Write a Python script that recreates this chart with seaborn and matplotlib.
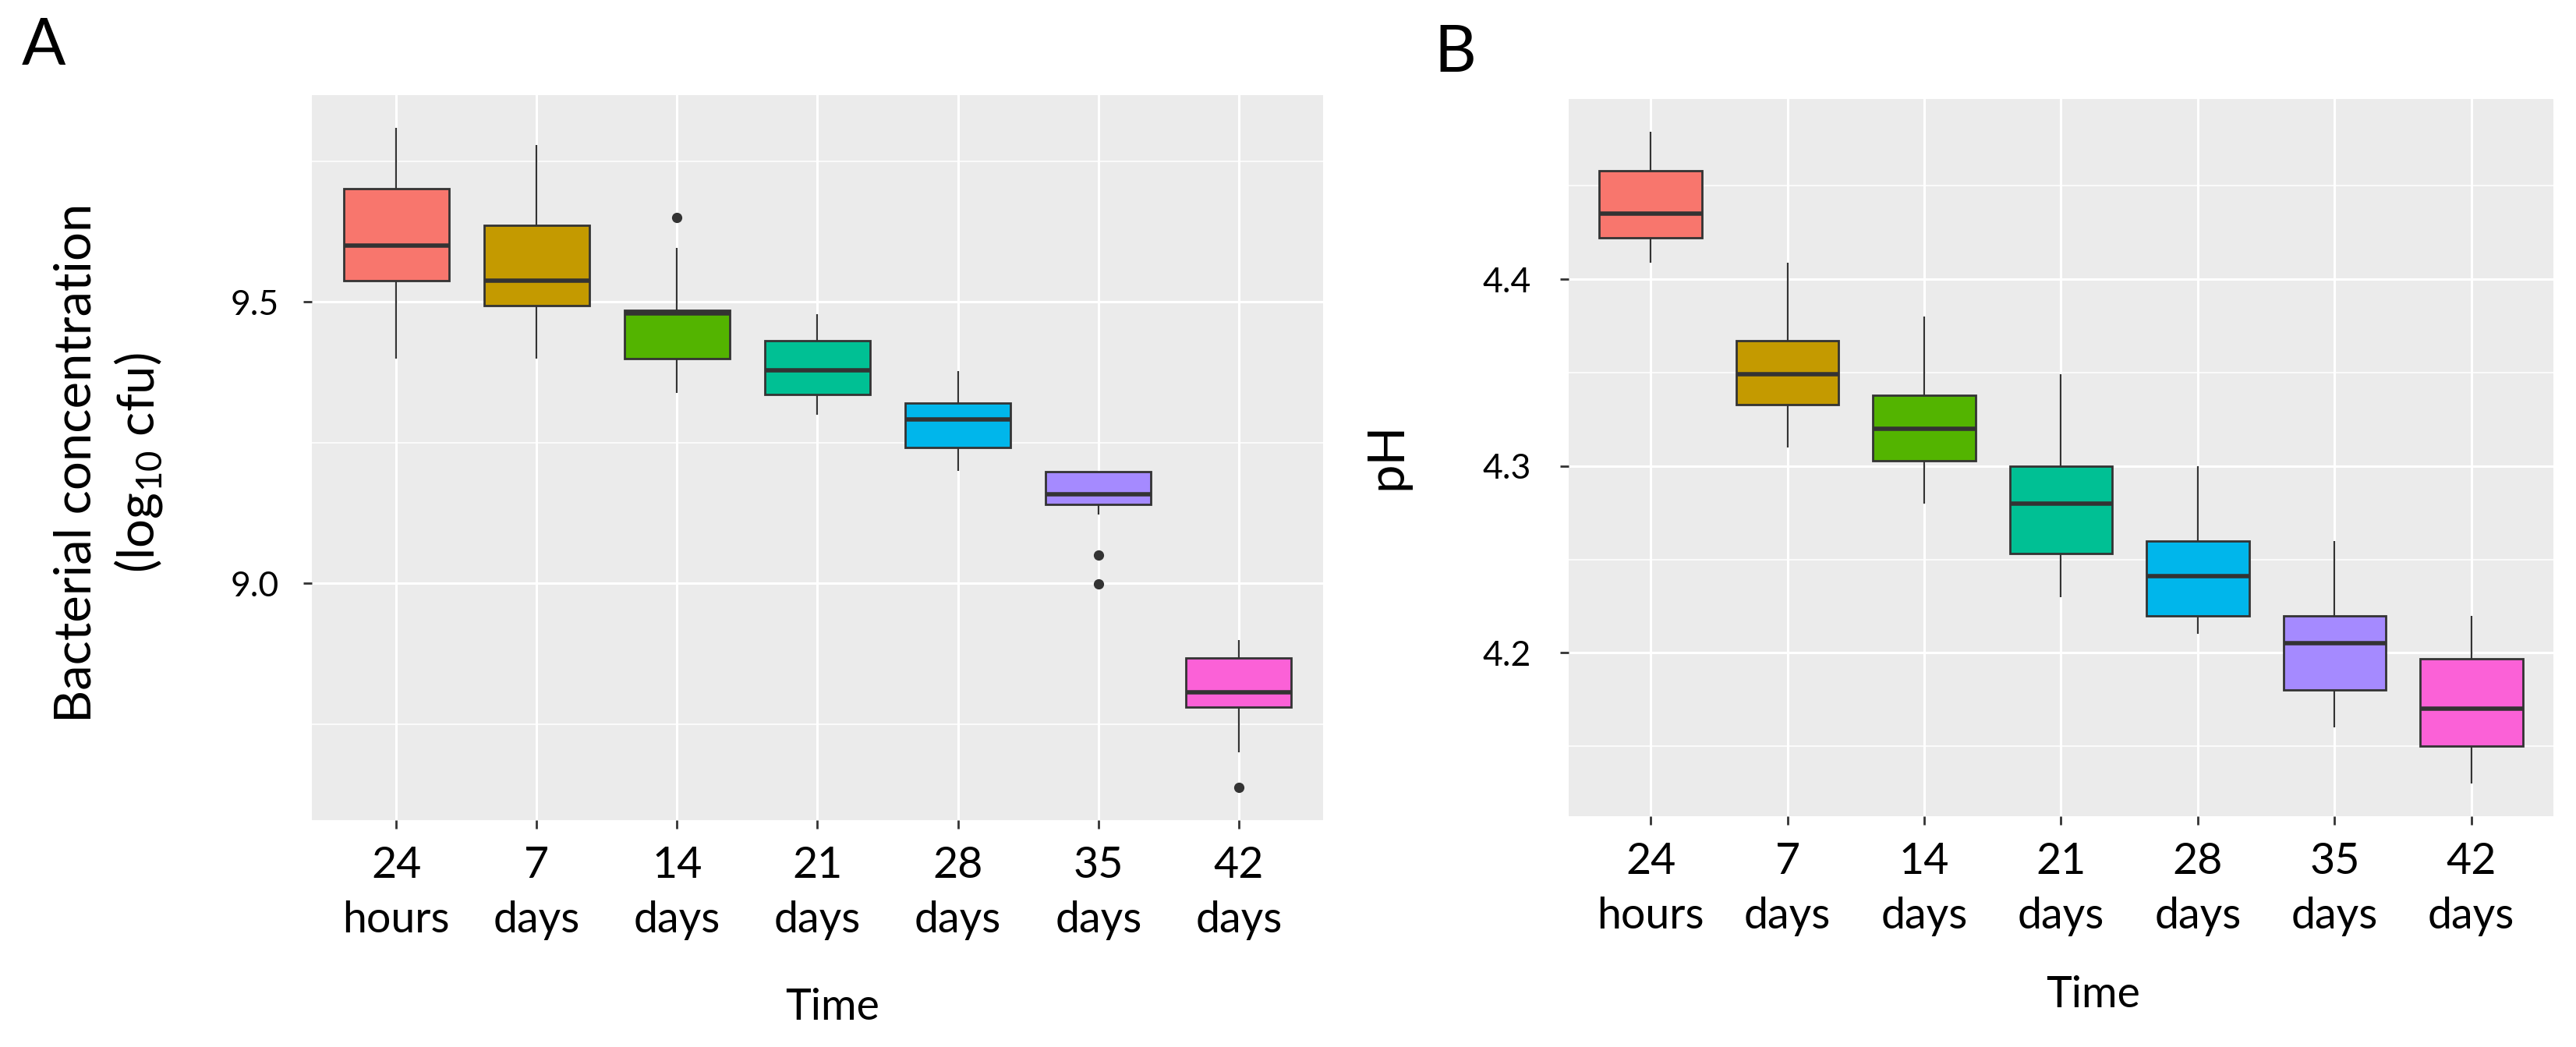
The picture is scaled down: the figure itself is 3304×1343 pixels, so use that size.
import numpy as np
import pandas as pd
import matplotlib
matplotlib.use("Agg")
import matplotlib.pyplot as plt
import seaborn as sns
from matplotlib.ticker import FixedLocator, FormatStrFormatter

plt.rcParams['font.family'] = ['Lato', 'DejaVu Sans']

# ---------------- data ----------------
categories = ["24\nhours", "7\ndays", "14\ndays", "21\ndays", "28\ndays", "35\ndays", "42\ndays"]
palette = ["#F8766D", "#C49A00", "#53B400", "#00C094", "#00B6EB", "#A58AFF", "#FB61D7"]

# Panel A: bacterial concentration (log10 cfu), observations per time point
bact_24h = [9.400, 9.538, 9.600, 9.702, 9.809]
bact_7d = [9.400, 9.494, 9.538, 9.636, 9.779]
bact_14d = [9.339, 9.370, 9.399, 9.440, 9.480, 9.482, 9.485, 9.596, 9.650]
bact_21d = [9.300, 9.336, 9.379, 9.431, 9.479]
bact_28d = [9.200, 9.241, 9.292, 9.320, 9.377]
bact_35d = [8.999, 9.050, 9.122, 9.141, 9.148, 9.153, 9.158, 9.170, 9.185, 9.198, 9.198, 9.198, 9.198]
bact_42d = [8.638, 8.700, 8.780, 8.790, 8.806, 8.840, 8.868, 8.885, 8.899]

# Panel B: pH, observations per time point
ph_24h = [4.409, 4.422, 4.435, 4.458, 4.479]
ph_7d = [4.310, 4.333, 4.349, 4.367, 4.409]
ph_14d = [4.280, 4.303, 4.320, 4.338, 4.380]
ph_21d = [4.230, 4.253, 4.280, 4.300, 4.349]
ph_28d = [4.210, 4.220, 4.241, 4.260, 4.300]
ph_35d = [4.160, 4.180, 4.205, 4.220, 4.260]
ph_42d = [4.130, 4.150, 4.170, 4.197, 4.220]

bact_major = [9.0, 9.5]
bact_minor = [8.75, 9.25, 9.75]
ph_major = [4.2, 4.3, 4.4]
ph_minor = [4.15, 4.25, 4.35, 4.45]


def long_frame(groups):
    rows = []
    for cat, vals in zip(categories, groups):
        for v in vals:
            rows.append((cat, v))
    return pd.DataFrame(rows, columns=["Time", "value"])


df_a = long_frame([bact_24h, bact_7d, bact_14d, bact_21d, bact_28d, bact_35d, bact_42d])
df_b = long_frame([ph_24h, ph_7d, ph_14d, ph_21d, ph_28d, ph_35d, ph_42d])

W, H = 3305, 1343
fig = plt.figure(figsize=(W / 100, H / 100), dpi=100)


def px_axes(left, top, right, bottom):
    return fig.add_axes([left / W, 1 - bottom / H, (right - left) / W, (bottom - top) / H])


axA = px_axes(400, 122, 1697, 1052)
axB = px_axes(2012, 127, 3275, 1047)

edge = "#333333"


def draw(ax, df, major, minor, ypad):
    ax.set_facecolor("#EBEBEB")
    for s in ax.spines.values():
        s.set_visible(False)
    ax.set_axisbelow(True)
    sns.boxplot(data=df, x="Time", y="value", hue="Time", order=categories,
                hue_order=categories, palette=palette, saturation=1, width=0.75,
                linewidth=2.0, linecolor=edge, showcaps=False, legend=False,
                flierprops=dict(marker="o", markerfacecolor=edge, markeredgecolor=edge,
                                markersize=8.5),
                medianprops=dict(color=edge, linewidth=4.0),
                whiskerprops=dict(color=edge, linewidth=1.6),
                ax=ax)
    vals = df["value"].to_numpy()
    lo, hi = vals.min(), vals.max()
    pad = 0.05 * (hi - lo)
    ax.set_ylim(lo - pad, hi + pad)
    ax.set_xlim(-0.6, len(categories) - 0.4)
    ax.yaxis.set_major_locator(FixedLocator(major))
    ax.yaxis.set_minor_locator(FixedLocator(minor))
    ax.yaxis.set_major_formatter(FormatStrFormatter("%.1f"))
    ax.set_xticks(range(len(categories)))
    ax.set_xticklabels(categories, linespacing=1.45)
    ax.grid(which="major", axis="both", color="white", linewidth=2.2)
    ax.grid(which="minor", axis="y", color="white", linewidth=1.1)
    ax.tick_params(axis="both", which="major", length=8, width=2, color=edge,
                   labelcolor="black")
    ax.tick_params(axis="x", labelsize=40, pad=16)
    ax.tick_params(axis="y", labelsize=32, pad=ypad)
    ax.tick_params(which="minor", length=0)


draw(axA, df_a, bact_major, bact_minor, 22)
draw(axB, df_b, ph_major, ph_minor, 27)

axA.set_xlabel("Time", fontsize=40, va="baseline")
axA.xaxis.set_label_coords(1068 / W, 1 - 1308 / H, transform=fig.transFigure)
axB.set_xlabel("Time", fontsize=40, va="baseline")
axB.xaxis.set_label_coords(2685 / W, 1 - 1292 / H, transform=fig.transFigure)

axA.set_ylabel("Bacterial concentration\n(log$_{\\mathregular{10}}$ cfu)", fontsize=47,
               linespacing=1.3, va="center", ha="center")
axA.yaxis.set_label_coords(140 / W, 1 - 594 / H, transform=fig.transFigure)
axB.set_ylabel("pH", fontsize=47, va="center", ha="center")
axB.yaxis.set_label_coords(1779 / W, 1 - 585 / H, transform=fig.transFigure)

fig.text(56 / W, 1 - 83 / H, "A", fontsize=60, ha="center", va="baseline")
fig.text(1866 / W, 1 - 92 / H, "B", fontsize=60, ha="center", va="baseline")

fig.savefig("out.png", dpi=100, facecolor="white")
